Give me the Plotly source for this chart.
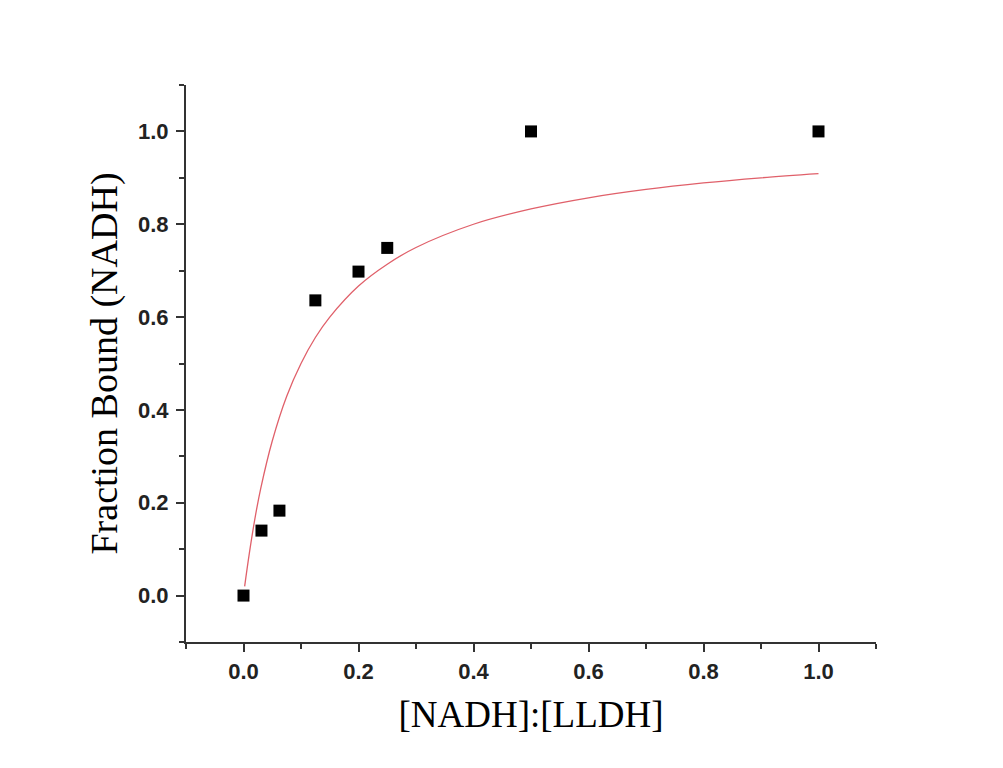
import plotly.graph_objects as go

# Measured data points
ratio = [0.0, 0.03125, 0.0625, 0.125, 0.2, 0.25, 0.5, 1.0]
fraction_bound = [0.0, 0.14, 0.183, 0.636, 0.698, 0.749, 1.0, 1.0]

# Fitted curve
fit_x = [0.002, 0.01, 0.02, 0.03, 0.05, 0.075, 0.1, 0.125, 0.15, 0.2, 0.25,
         0.3, 0.4, 0.5, 0.6, 0.7, 0.8, 0.9, 1.0]
fit_y = [0.02, 0.09, 0.167, 0.231, 0.333, 0.429, 0.5, 0.556, 0.6, 0.667, 0.714,
         0.75, 0.8, 0.833, 0.857, 0.875, 0.889, 0.9, 0.909]

x_ticks = [0.0, 0.2, 0.4, 0.6, 0.8, 1.0]
x_tick_labels = ["0.0", "0.2", "0.4", "0.6", "0.8", "1.0"]
y_ticks = [0.0, 0.2, 0.4, 0.6, 0.8, 1.0]
y_tick_labels = ["0.0", "0.2", "0.4", "0.6", "0.8", "1.0"]

fig = go.Figure()
fig.add_trace(go.Scatter(
    x=fit_x, y=fit_y, mode="lines", line=dict(color="#e0606a", width=1.3, shape="spline"),
    showlegend=False, hoverinfo="skip"))
fig.add_trace(go.Scatter(
    x=ratio, y=fraction_bound, mode="markers",
    marker=dict(symbol="square", size=12, color="black"),
    showlegend=False))

tickfont = dict(family="Arial, Liberation Sans, sans-serif", size=22, color="#222222")
axis_common = dict(
    showgrid=False, zeroline=False, showline=True, linecolor="#333333", linewidth=2,
    ticks="outside", ticklen=8, tickwidth=1.5, tickcolor="#333333",
    tickfont=tickfont,
    minor=dict(ticks="outside", ticklen=5, tickwidth=1.5, tickcolor="#333333", dtick=0.1, tick0=0.1),
)
title_font = "Times New Roman, Liberation Serif, serif"

fig.update_xaxes(range=[-0.1, 1.1], tickvals=x_ticks,
                 ticktext=["<b>%s</b>" % t for t in x_tick_labels],
                 ticklabelstandoff=1,
                 title=dict(text="[NADH]:[LLDH]", standoff=18,
                            font=dict(family=title_font, size=37, color="black")),
                 **axis_common)
fig.update_yaxes(range=[-0.1, 1.1], tickvals=y_ticks,
                 ticktext=["<b>%s</b>" % t for t in y_tick_labels],
                 ticklabelstandoff=3,
                 title=dict(text="Fraction Bound (NADH)", standoff=9,
                            font=dict(family=title_font, size=38, color="black")),
                 **axis_common)

fig.update_layout(
    width=1003, height=768,
    margin=dict(l=186, r=127, t=85, b=126),
    plot_bgcolor="white", paper_bgcolor="white",
)

fig.write_html("out.html")
